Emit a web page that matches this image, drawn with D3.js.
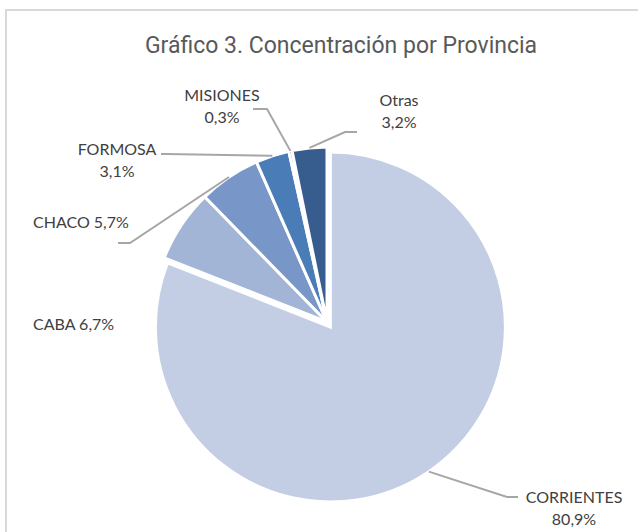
<!DOCTYPE html>
<html>
<head>
<meta charset="utf-8">
<script src="https://cdn.jsdelivr.net/npm/d3@7"></script>
<style>
  body { margin: 0; background: #fff; }
  text { font-family: Lato, "Noto Sans", sans-serif; }
</style>
</head>
<body>
<div id="chart"></div>
<script>
// data
const categories = ["CORRIENTES", "CABA", "CHACO", "FORMOSA", "MISIONES", "Otras"];
const values = [80.9, 6.7, 5.7, 3.1, 0.3, 3.2];
const colors = ["#c3cde3", "#a3b5d7", "#7896c8", "#4a7cb8", "#3f6aa5", "#375d8e"];
const title = "Gráfico 3. Concentración por Provincia";

// label placement (layout only)
const labelLayout = {
  CORRIENTES: {x: 574, y: 503, anchor: "middle", split: true,  leader: [[518, 497], [507, 497]]},
  CABA:       {x: 33,  y: 330, anchor: "start",  split: false, leader: null},
  CHACO:      {x: 33,  y: 228, anchor: "start",  split: false, leader: [[118, 243], [130, 243]]},
  FORMOSA:    {x: 117, y: 155, anchor: "middle", split: true,  leader: [[161, 154], [166, 154]]},
  MISIONES:   {x: 222, y: 101, anchor: "middle", split: true,  leader: [[253, 109], [267, 109]]},
  Otras:      {x: 399, y: 106, anchor: "middle", split: true,  leader: [[357, 132], [345, 132]]}
};

var width = 638, height = 532;
var cx = 327, cy = 322, radius = 175, explode = 6;

var svg = d3.select("#chart")
  .append("svg")
    .attr("width", width)
    .attr("height", height);

// chart frame (cut off on right and bottom)
svg.append("rect")
    .attr("x", 6).attr("y", 10)
    .attr("width", 700).attr("height", 600)
    .attr("fill", "none")
    .attr("stroke", "#d9d9d9")
    .attr("stroke-width", 2);

svg.append("text")
    .attr("x", 341).attr("y", 53)
    .attr("text-anchor", "middle")
    .style("font-family", "Roboto, sans-serif")
    .style("font-size", "23px")
    .attr("fill", "#595959")
    .text(title);

var data = categories.map((c, i) => ({name: c, value: values[i], color: colors[i]}));

var pie = d3.pie().sort(null).value(d => d.value);
var arcs = pie(data);

var arc = d3.arc().innerRadius(0).outerRadius(radius);

// only the first slice is pulled out
function offset(d, i) {
  if (i !== 0) return [0, 0];
  var a = (d.startAngle + d.endAngle) / 2;
  return [Math.sin(a) * explode, -Math.cos(a) * explode];
}

var g = svg.append("g").attr("transform", "translate(" + cx + "," + cy + ")");

g.selectAll("path")
  .data(arcs)
  .enter()
  .append("path")
    .attr("transform", (d, i) => "translate(" + offset(d, i) + ")")
    .attr("d", arc)
    .attr("fill", d => d.data.color)
    .attr("stroke", "#fff")
    .attr("stroke-width", 3)
    .attr("stroke-linejoin", "miter");

var fmt = v => d3.format(".1f")(v).replace(".", ",") + "%";

arcs.forEach(function(d, i) {
  var L = labelLayout[d.data.name];
  var a = (d.startAngle + d.endAngle) / 2;
  var off = offset(d, i);
  var px = cx + off[0] + Math.sin(a) * radius;
  var py = cy + off[1] - Math.cos(a) * radius;

  if (L.leader) {
    svg.append("polyline")
        .attr("points", [L.leader[0], L.leader[1], [px, py]].map(p => p.join(",")).join(" "))
        .attr("fill", "none")
        .attr("stroke", "#a6a6a6")
        .attr("stroke-width", 2);
  }

  var lines = L.split ? [d.data.name, fmt(d.data.value)] : [d.data.name + " " + fmt(d.data.value)];
  var t = svg.append("text")
      .attr("text-anchor", L.anchor)
      .attr("fill", "#404040")
      .style("font-size", "16px");
  lines.forEach(function(s, k) {
    t.append("tspan").attr("x", L.x).attr("y", L.y + k * 22).text(s);
  });
});
</script>
</body>
</html>
